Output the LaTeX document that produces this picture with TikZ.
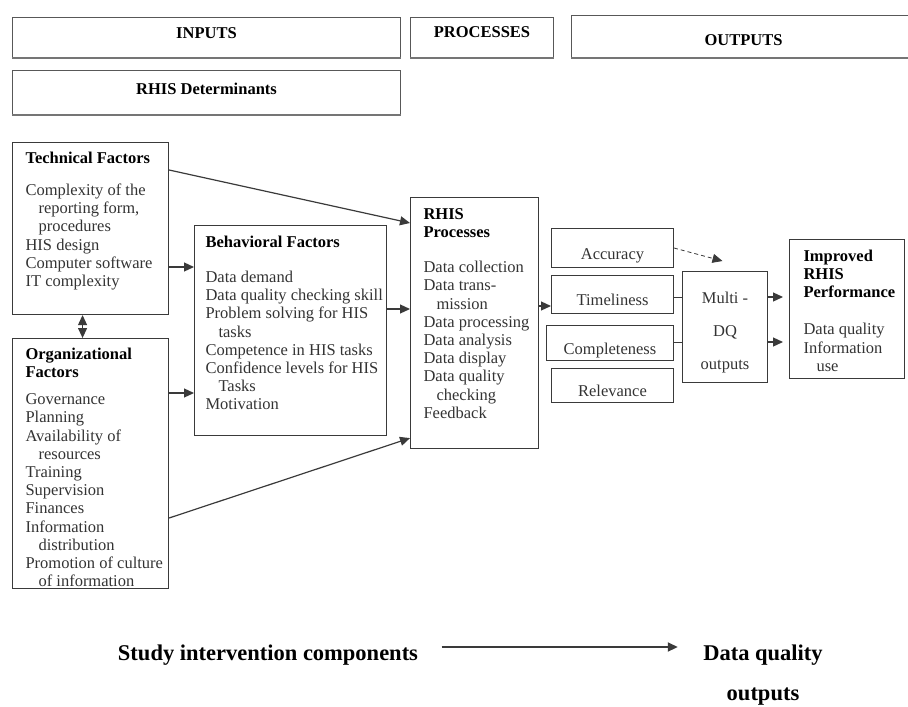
\documentclass[tikz,border=0pt]{standalone}
\usepackage{fontspec}
\setmainfont{Liberation Serif}
\usetikzlibrary{arrows.meta}
\definecolor{ln}{HTML}{3A3A3A}
\definecolor{tx}{HTML}{333333}
\newcommand\ind{\hspace*{13pt}}
\newcommand\ttl[1]{{\color{black}\bfseries #1}}
\newcommand\rows[1]{\begin{tabular}[t]{@{}l@{}}#1\end{tabular}}

\begin{document}
\begin{tikzpicture}[x=1pt,y=-1pt,>={Triangle[length=10pt,width=9pt]},
  arj/.style={line width=1.2pt,draw=ln,->},
  lnk/.style={line width=1pt,draw=ln},
  hdr/.style={draw=ln!85,line width=1pt,inner sep=0pt,anchor=north west,
    font=\fontsize{16.5}{19}\selectfont\bfseries},
  fac/.style={draw=ln,line width=1.1pt,anchor=north west,inner xsep=13pt,
    inner ysep=0pt,text=tx,font=\fontsize{16.5}{18.2}\selectfont},
  dq/.style={draw=ln,line width=1pt,anchor=north west,inner sep=0pt,
    minimum width=122pt,text height=23pt,text depth=1pt,text=tx,
    font=\fontsize{16.5}{20}\selectfont},
  big/.style={font=\fontsize{22.5}{26}\selectfont\bfseries}]
\useasboundingbox (0,0) rectangle (908,707);

% headers
\node[hdr,minimum width=388pt,minimum height=41pt] (inp) at (12,17)
  {\rule[-10pt]{0pt}{10pt}INPUTS};
\node[hdr,minimum width=143pt,minimum height=41pt] (proc) at (410,17)
  {\rule[-12pt]{0pt}{12pt}PROCESSES};
\node[hdr,minimum width=344pt,minimum height=43pt] (outp) at (571,15)
  {\rule{0pt}{17pt}OUTPUTS};
\node[hdr,minimum width=388pt,minimum height=45pt] (det) at (12,70)
  {\rule[-9pt]{0pt}{9pt}RHIS Determinants};
\foreach \h in {inp,proc,outp,det}
  \draw[line width=2.6pt,ln!70] ([yshift=1pt]\h.south west) -- ([yshift=1pt]\h.south east);

% determinants
\node[fac] (tech) at (12,142) {\parbox[c][172pt][t]{130pt}{\vspace*{8pt}\rows{%
  \ttl{Technical Factors}\\[14pt]Complexity of the\\\ind reporting form,\\\ind procedures\\
  HIS design\\Computer software\\IT complexity}}};
\node[fac] (org) at (12,338) {\parbox[c][250pt][t]{130pt}{\vspace*{8pt}\rows{%
  \ttl{Organizational}\\\ttl{Factors}\\[9pt]Governance\\Planning\\Availability of\\
  \ind resources\\Training\\Supervision\\Finances\\Information\\\ind distribution\\
  Promotion of culture\\\ind of information}}};
\node[fac,inner xsep=11pt] (behav) at (194,225) {\parbox[c][210pt][t]{170pt}{\vspace*{9pt}\rows{%
  \ttl{Behavioral Factors}\\[17pt]Data demand\\Data quality checking skill\\
  Problem solving for HIS\\\ind tasks\\Competence in HIS tasks\\Confidence levels for HIS\\
  \ind Tasks\\Motivation}}};

% processes
\node[fac] (rhis) at (410,197) {\parbox[c][251pt][t]{102pt}{\vspace*{9pt}\rows{%
  \ttl{RHIS}\\\ttl{Processes}\\[17pt]Data collection\\Data trans-\\\ind mission\\
  Data processing\\Data analysis\\Data display\\Data quality\\\ind checking\\Feedback}}};

% outputs
\node[dq,minimum height=39pt] (acc) at (551,228) {Accuracy};
\node[dq,minimum height=38pt] (time) at (551,275) {Timeliness};
\node[dq,minimum width=127pt,minimum height=35pt] (comp) at (546,325) {Completeness};
\node[dq,minimum height=34pt] (rel) at (551,368) {Relevance};
\node[draw=ln,line width=1pt,anchor=north west,minimum width=85pt,minimum height=111pt,
  align=center,text=tx,font=\fontsize{16.5}{33}\selectfont] (multi) at (682,271)
  {\rule{0pt}{23pt}Multi -\\DQ\\outputs};
\node[fac,inner xsep=14pt] (impr) at (789,239) {\parbox[c][139pt][t]{87pt}{\vspace*{9pt}\rows{%
  \ttl{Improved}\\\ttl{RHIS}\\\ttl{Performance}\\[19pt]Data quality\\Information\\\ind use}}};

% connectors
\draw[arj] ([yshift=-28pt]tech.north east) -- ([yshift=-26pt]rhis.north west);
\draw[arj] ([yshift=-125pt]tech.north east) -- ([yshift=-42pt]behav.north west);
\draw[arj] ([yshift=-55pt]org.north east) -- ([yshift=-168pt]behav.north west);
\draw[arj] ([yshift=-180pt]org.north east) -- ([yshift=11pt]rhis.south west);
\draw[arj] ([yshift=-84pt]behav.north east) -- ([yshift=-112pt]rhis.north west);
\draw[arj,<->] ([xshift=-8pt]tech.south) -- ([xshift=-8pt]org.north);
\draw[arj] ([yshift=-109pt]rhis.north east) -- ([yshift=-31pt]time.north west);
\draw[arj,line width=0.8pt,dash pattern=on 4pt off 3pt] ([yshift=-20pt]acc.north east)
  -- ([shift={(-2.5pt,10pt)}]multi.north);
\draw[lnk] ([yshift=-22pt]time.north east) -- ([yshift=-26pt]multi.north west);
\draw[lnk] ([yshift=-17pt]comp.north east) -- ([yshift=-71pt]multi.north west);
\draw[arj,shorten >=6pt] ([yshift=-26pt]multi.north east) -- ([yshift=-58pt]impr.north west);
\draw[arj,shorten >=6pt] ([yshift=-71pt]multi.north east) -- ([yshift=-103pt]impr.north west);

% legend
\node[big] (study) at (268,655) {Study intervention components};
\node[big] (dqo) at (763,655) {Data quality};
\node[big] (outs) at (763,697) {outputs};
\draw[arj,line width=2pt,shorten <=20pt,shorten >=22pt] ([yshift=8pt]study.east)
  -- ([yshift=8pt]dqo.west);
\end{tikzpicture}
\end{document}
